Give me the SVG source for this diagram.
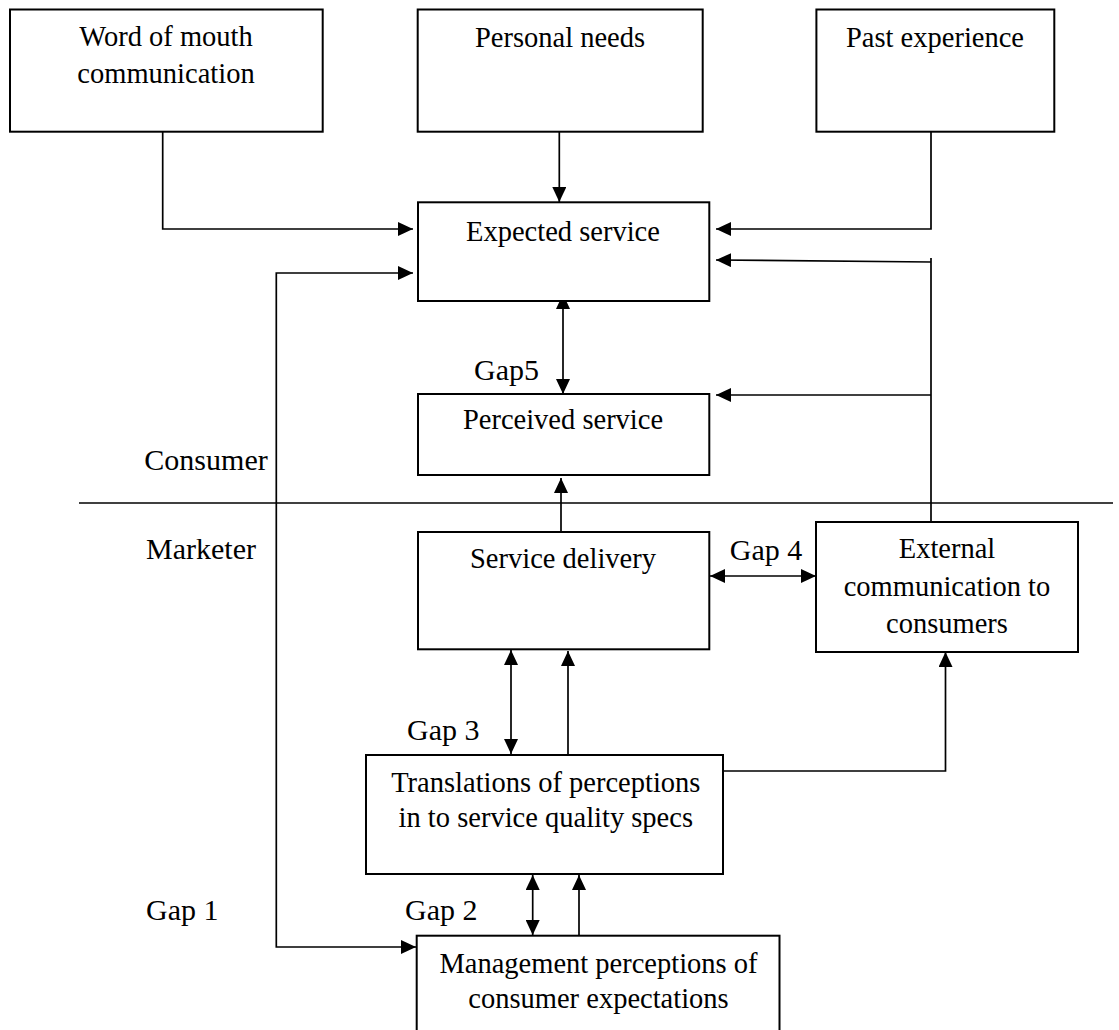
<svg xmlns="http://www.w3.org/2000/svg" width="1119" height="1030" viewBox="0 0 1119 1030">
<style>
.box{fill:#fff;stroke:#000;stroke-width:2}
.t{font-family:"Liberation Serif","Times New Roman",serif;font-size:28.5px;fill:#000;text-anchor:middle}
.lbl{font-family:"Liberation Serif","Times New Roman",serif;font-size:30px;fill:#000}
.c{fill:none;stroke:#000;stroke-width:1.7}
</style>
<defs>
<marker id="ah" viewBox="0 0 15 14" refX="15" refY="7" markerWidth="15" markerHeight="14" markerUnits="userSpaceOnUse" orient="auto-start-reverse">
<path d="M0,0 L15,7 L0,14 z" fill="#000"/>
</marker>
</defs>
<rect width="1119" height="1030" fill="#fff"/>
<g id="connectors">
<path class="c" d="M162.7,131.7 V229 H413" marker-end="url(#ah)"/>
<path class="c" d="M559.3,131.7 V202" marker-end="url(#ah)"/>
<path class="c" d="M931,131.7 V229 H716" marker-end="url(#ah)"/>
<path class="c" d="M413,273 H276.3 V947 H416" marker-start="url(#ah)" marker-end="url(#ah)"/>
<path class="c" d="M563,294 V394" marker-start="url(#ah)" marker-end="url(#ah)"/>
<path class="c" d="M931,522 V258"/>
<path class="c" d="M931,262 L716,260" marker-end="url(#ah)"/>
<path class="c" d="M931,395 H716" marker-end="url(#ah)"/>
<path class="c" d="M561,532 V478" marker-end="url(#ah)"/>
<path class="c" d="M710,576 H816" marker-start="url(#ah)" marker-end="url(#ah)"/>
<path class="c" d="M511,650 V754" marker-start="url(#ah)" marker-end="url(#ah)"/>
<path class="c" d="M568,755 V651" marker-end="url(#ah)"/>
<path class="c" d="M715,771 H945.5 V652" marker-end="url(#ah)"/>
<path class="c" d="M532.7,875 V935" marker-start="url(#ah)" marker-end="url(#ah)"/>
<path class="c" d="M579,936 V875" marker-end="url(#ah)"/>
<path class="c" stroke-width="2" d="M79,503 H1113"/>
</g>
<g id="word">
<rect class="box" x="10" y="9.5" width="312.7" height="122.2"/>
<text class="t" x="166" y="46">Word of mouth</text>
<text class="t" x="166" y="83">communication</text>
</g>
<g id="personal">
<rect class="box" x="417.7" y="9.5" width="285" height="122.2"/>
<text class="t" x="560" y="46.5">Personal needs</text>
</g>
<g id="past">
<rect class="box" x="816.4" y="9.5" width="237.9" height="122.2"/>
<text class="t" x="935" y="46.5">Past experience</text>
</g>
<g id="expected">
<rect class="box" x="418" y="202.3" width="291.3" height="98.7"/>
<text class="t" x="563" y="240.7">Expected service</text>
</g>
<g id="perceived">
<rect class="box" x="418" y="394" width="291.3" height="81"/>
<text class="t" x="563" y="429.3">Perceived service</text>
</g>
<g id="delivery">
<rect class="box" x="418" y="532" width="291.3" height="117.3"/>
<text class="t" x="563" y="568.3">Service delivery</text>
</g>
<g id="external">
<rect class="box" x="816" y="522" width="262" height="130"/>
<text class="t" x="947" y="558.3">External</text>
<text class="t" x="947" y="596">communication to</text>
<text class="t" x="947" y="633">consumers</text>
</g>
<g id="translations">
<rect class="box" x="366" y="755" width="357" height="119"/>
<text class="t" x="545.8" y="791.7">Translations of perceptions</text>
<text class="t" x="545.8" y="827">in to service quality specs</text>
</g>
<g id="management">
<rect class="box" x="416.7" y="935.7" width="362.8" height="100"/>
<text class="t" x="598.5" y="973">Management perceptions of</text>
<text class="t" x="598.5" y="1008">consumer expectations</text>
</g>
<g id="labels">
<text class="lbl" x="267.7" y="470" text-anchor="end">Consumer</text>
<text class="lbl" x="146" y="559">Marketer</text>
<text class="lbl" x="474" y="380">Gap5</text>
<text class="lbl" x="766" y="560" text-anchor="middle">Gap 4</text>
<text class="lbl" x="407" y="740">Gap 3</text>
<text class="lbl" x="405" y="920">Gap 2</text>
<text class="lbl" x="146" y="920">Gap 1</text>
</g>
</svg>
